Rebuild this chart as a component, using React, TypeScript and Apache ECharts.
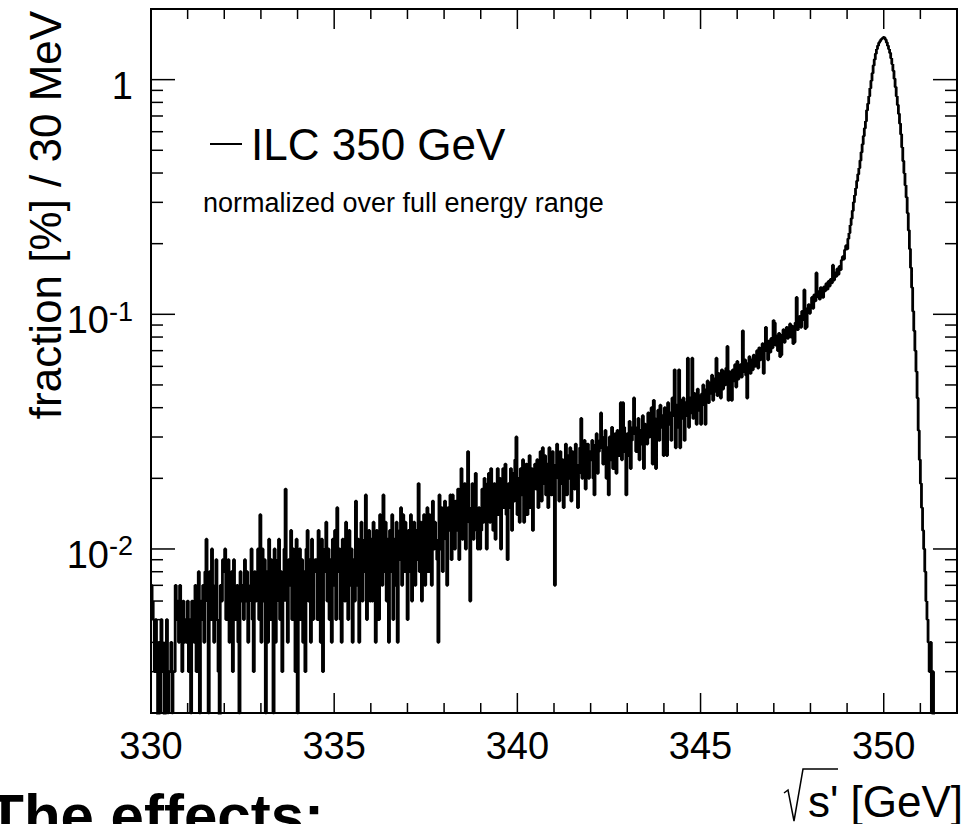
import React, { useEffect, useRef } from "react";
import * as echarts from "echarts";

// ---- data: counts per 30 MeV bin, in units of 0.001 % ----
const X_START = 330;
const BIN_WIDTH = 0.03;
const COUNT_UNIT = 0.001;
const SERIES_NAME = "ILC 350 GeV";

const counts330 = [7,6,5,3,5,4,1,4,2,5,4,3,0,4,5,2,3,3,4,2,3,3,7,5,6,4,7,5,3,6,4,5,4,6,3,5,2,6,5,4,7,3,5,8,2,6,5,7,4,8];
const counts3315 = [11,6,2,8,5,10,7,4,6,9,5,3,1,7,6,9,8,10,5,7,9,4,6,8,3,9,6,5,7,4,2,8,6,7,5,9,6,8,4,6,7,10,5,3,8,6,7,10,5,14];
const counts333 = [4,10,6,9,2,8,4,11,5,9,7,2,10,4,6,9,11,5,8,3,6,10,18,6,4,9,7,12,5,10,8,3,11,2,6,10,5,9,4,8,3,10,12,6,9,4,11,5,8,9];
const counts3345 = [9,5,12,7,4,11,3,8,10,13,6,10,5,9,4,11,7,12,5,15,8,10,5,4,11,7,6,13,9,5,12,7,10,4,9,6,16,7,11,4,9,13,6,8,11,17,5,8,12,6];
const counts336 = [11,6,13,8,4,12,9,5,14,10,7,17,8,13,6,11,4,12,8,14,5,11,7,13,4,9,12,15,7,14,8,13,10,5,12,8,14,6,10,13,7,12,9,19,8,13,6,11,14,7];
const counts3375 = [11,15,8,14,12,7,16,10,13,11,9,4,17,10,15,8,13,16,11,7,15,12,17,9,17,14,10,16,12,18,9,15,22,11,16,19,10,17,26,13,6,15,19,11,17,21,12,10,15,10];
const counts339 = [12,18,13,20,15,10,19,21,13,22,17,12,19,11,18,22,14,20,10,17,22,15,23,14,9,19,15,22,12,21,16,24,30,14,20,13,22,17,24,13,18,23,14,21,25,15,22,12,19,23];
const counts3405 = [18,24,15,22,26,16,27,19,25,17,23,15,27,20,17,26,19,7,23,28,20,16,26,19,24,15,21,28,17,25,20,27,16,26,21,18,28,23,15,21,27,36,20,25,29,18,24,28,20,26];
const counts342 = [24,29,20,17,28,31,21,26,29,38,27,23,30,32,20,27,17,30,24,33,22,28,31,21,32,25,30,42,24,42,33,26,17,31,25,35,22,29,33,44,31,26,33,36,24,32,28,37,22,34];
const counts3435 = [33,28,38,30,35,40,23,43,36,22,34,39,29,41,33,37,25,40,31,25,42,34,38,29,44,37,58,27,41,33,58,27,43,36,44,29,42,37,65,33,44,38,65,36,46,40,34,48,39,45];
const counts345 = [34,46,50,41,34,48,52,42,51,46,55,43,53,47,65,45,56,49,44,58,48,57,50,59,73,43,57,51,43,58,52,61,49,63,53,58,61,54,85,57,64,55,44,62,66,56,64,58,67,60];
const counts3465 = [63,70,59,72,64,70,75,56,70,88,73,64,77,69,79,72,94,92,74,81,70,83,66,67,82,86,76,84,88,79,87,91,80,89,75,76,92,118,86,94,98,88,103,95,127,87,88,106,110,101];
const counts348 = [110,118,106,121,114,150,119,125,116,130,122,118,131,126,135,128,138,132,141,136,162,140,150,145,156,148,160,155,170,176,172,188,196,190,210,222,240,256,276,300,322,345,370,395,420,452,490,530,575,620];
const counts3495 = [665,740,790,850,920,990,1065,1150,1220,1290,1350,1395,1435,1460,1485,1500,1512,1505,1480,1440,1395,1350,1300,1235,1165,1090,1010,930,850,780,715,650,585,515,450,400,355,315,270,228,190,158,130,103,85,70,57,44,32,24];
const counts351 = [19,15,12,10,8,6,5,4,3,4,2,3,1,0,0,0,0,0,0,0,0,0,0,0,0,0,0,0,0,0,0,0,0];

const X_MIN = 330;
const X_MAX = 352;
const X_INTERVAL = 5;
const Y_MIN = 0.002;
const Y_MAX = 2;
const Y_FLOOR = 0.0005; // empty bins fall below the frame

const xMajorTicks = [330, 335, 340, 345, 350];
const xMinorTicks = [331, 332, 333, 334, 336, 337, 338, 339, 341, 342, 343, 344, 346, 347, 348, 349, 351];
const yMajorTicks = [0.01, 0.1, 1];
const yMinorTicks = [0.003, 0.004, 0.005, 0.006, 0.007, 0.008, 0.009, 0.02, 0.03, 0.04, 0.05, 0.06, 0.07, 0.08, 0.09, 0.2, 0.3, 0.4, 0.5, 0.6, 0.7, 0.8, 0.9];

const FONT = "Liberation Sans, Arial, Helvetica, sans-serif";

function buildHistogram() {
  const counts = [
    ...counts330, ...counts3315, ...counts333, ...counts3345, ...counts336,
    ...counts3375, ...counts339, ...counts3405, ...counts342, ...counts3435,
    ...counts345, ...counts3465, ...counts348, ...counts3495, ...counts351,
  ];
  const pts: number[][] = counts.map((c, i) => [
    X_START + BIN_WIDTH * i,
    c > 0 ? c * COUNT_UNIT : Y_FLOOR,
  ]);
  const last = pts[pts.length - 1];
  pts.push([X_START + BIN_WIDTH * counts.length, last[1]]);
  pts.push([X_MAX, last[1]]);
  return pts;
}

function xTickSeries(ticks: number[], len: number) {
  return {
    type: "custom",
    silent: true,
    z: 5,
    data: ticks.map((v) => [v, Y_MIN]),
    encode: { x: 0, y: 1 },
    renderItem: (_p: any, api: any) => {
      const v = api.value(0);
      const b = api.coord([v, Y_MIN]);
      const t = api.coord([v, Y_MAX]);
      return {
        type: "group",
        children: [
          { type: "line", shape: { x1: b[0], y1: b[1], x2: b[0], y2: b[1] - len }, style: { stroke: "#000", lineWidth: 1.5 } },
          { type: "line", shape: { x1: t[0], y1: t[1], x2: t[0], y2: t[1] + len }, style: { stroke: "#000", lineWidth: 1.5 } },
        ],
      };
    },
  };
}

function yTickSeries(ticks: number[], len: number) {
  return {
    type: "custom",
    silent: true,
    z: 5,
    data: ticks.map((v) => [X_MIN, v]),
    encode: { x: 0, y: 1 },
    renderItem: (_p: any, api: any) => {
      const v = api.value(1);
      const l = api.coord([X_MIN, v]);
      const r = api.coord([X_MAX, v]);
      return {
        type: "group",
        children: [
          { type: "line", shape: { x1: l[0], y1: l[1], x2: l[0] + len, y2: l[1] }, style: { stroke: "#000", lineWidth: 1.5 } },
          { type: "line", shape: { x1: r[0], y1: r[1], x2: r[0] - len, y2: r[1] }, style: { stroke: "#000", lineWidth: 1.5 } },
        ],
      };
    },
  };
}

export default function App() {
  const ref = useRef<HTMLDivElement>(null);

  useEffect(() => {
    if (!ref.current) return;
    const chart = echarts.init(ref.current, null, { renderer: "svg" });
    const option: any = {
      animation: false,
      backgroundColor: "#fff",
      grid: {
        left: 151,
        top: 9,
        width: 806,
        height: 704,
        show: true,
        borderColor: "#000",
        borderWidth: 2,
        backgroundColor: "transparent",
      },
      legend: {
        data: [SERIES_NAME],
        left: 210,
        top: 122,
        padding: 0,
        icon: "rect",
        itemWidth: 32,
        itemHeight: 2,
        selectedMode: false,
        textStyle: { fontSize: 44, color: "#000", fontFamily: FONT, padding: [0, 0, 0, 4] },
      },
      xAxis: {
        type: "value",
        min: X_MIN,
        max: X_MAX,
        interval: X_INTERVAL,
        axisLine: { show: false },
        axisTick: { show: false },
        splitLine: { show: false },
        axisLabel: {
          margin: 14,
          fontSize: 38,
          color: "#000",
          fontFamily: FONT,
          formatter: (v: number) => (Math.abs(v % 5) < 1e-6 && v <= 350 ? String(v) : ""),
        },
      },
      yAxis: {
        type: "log",
        logBase: 10,
        min: Y_MIN,
        max: Y_MAX,
        axisLine: { show: false },
        axisTick: { show: false },
        splitLine: { show: false },
        axisLabel: {
          margin: 18,
          color: "#000",
          fontFamily: FONT,
          padding: [12, 0, 0, 0],
          formatter: (v: number) => {
            const l = Math.log10(v);
            const e = Math.round(l);
            if (Math.abs(l - e) > 1e-6) return "";
            if (e === 0) return "{b|1}";
            return `{b|10}{s|${e}}`;
          },
          rich: {
            b: { fontSize: 38, lineHeight: 44, fontFamily: FONT, color: "#000" },
            s: { fontSize: 27, lineHeight: 22, verticalAlign: "top", fontFamily: FONT, color: "#000" },
          },
        },
      },
      graphic: [
        {
          type: "text",
          x: 203,
          y: 203,
          style: { text: "normalized over full energy range", fontSize: 27, fontFamily: FONT, fill: "#000", align: "left", verticalAlign: "middle" },
        },
        {
          type: "text",
          x: 45,
          y: 215,
          rotation: Math.PI / 2,
          style: { text: "fraction [%] / 30 MeV", fontSize: 44, fontFamily: FONT, fill: "#000", align: "center", verticalAlign: "middle" },
        },
        {
          type: "polyline",
          shape: { points: [[784, 793], [788, 790], [794, 821], [803, 769], [838, 769]] },
          style: { stroke: "#000", lineWidth: 1.5, fill: null },
        },
        {
          type: "text",
          x: 963,
          y: 801,
          style: { text: "s' [GeV]", fontSize: 44, fontFamily: FONT, fill: "#000", align: "right", verticalAlign: "middle" },
        },
        {
          type: "text",
          x: 324,
          y: 815,
          style: { text: "The effects:", fontSize: 60, fontWeight: "bold", fontFamily: FONT, fill: "#000", align: "right", verticalAlign: "middle" },
        },
      ],
      series: [
        {
          name: SERIES_NAME,
          type: "line",
          step: "end",
          showSymbol: false,
          symbol: "none",
          clip: true,
          data: buildHistogram(),
          itemStyle: { color: "#000" },
          lineStyle: { color: "#000", width: 2.8 },
          z: 3,
        },
        xTickSeries(xMajorTicks, 20),
        xTickSeries(xMinorTicks, 10),
        yTickSeries(yMajorTicks, 24),
        yTickSeries(yMinorTicks, 12),
      ],
    };
    chart.setOption(option);
    return () => chart.dispose();
  }, []);

  return (
    <div
      ref={ref}
      style={{ position: "fixed", left: 0, top: 0, width: 971, height: 824, background: "#fff" }}
    />
  );
}
